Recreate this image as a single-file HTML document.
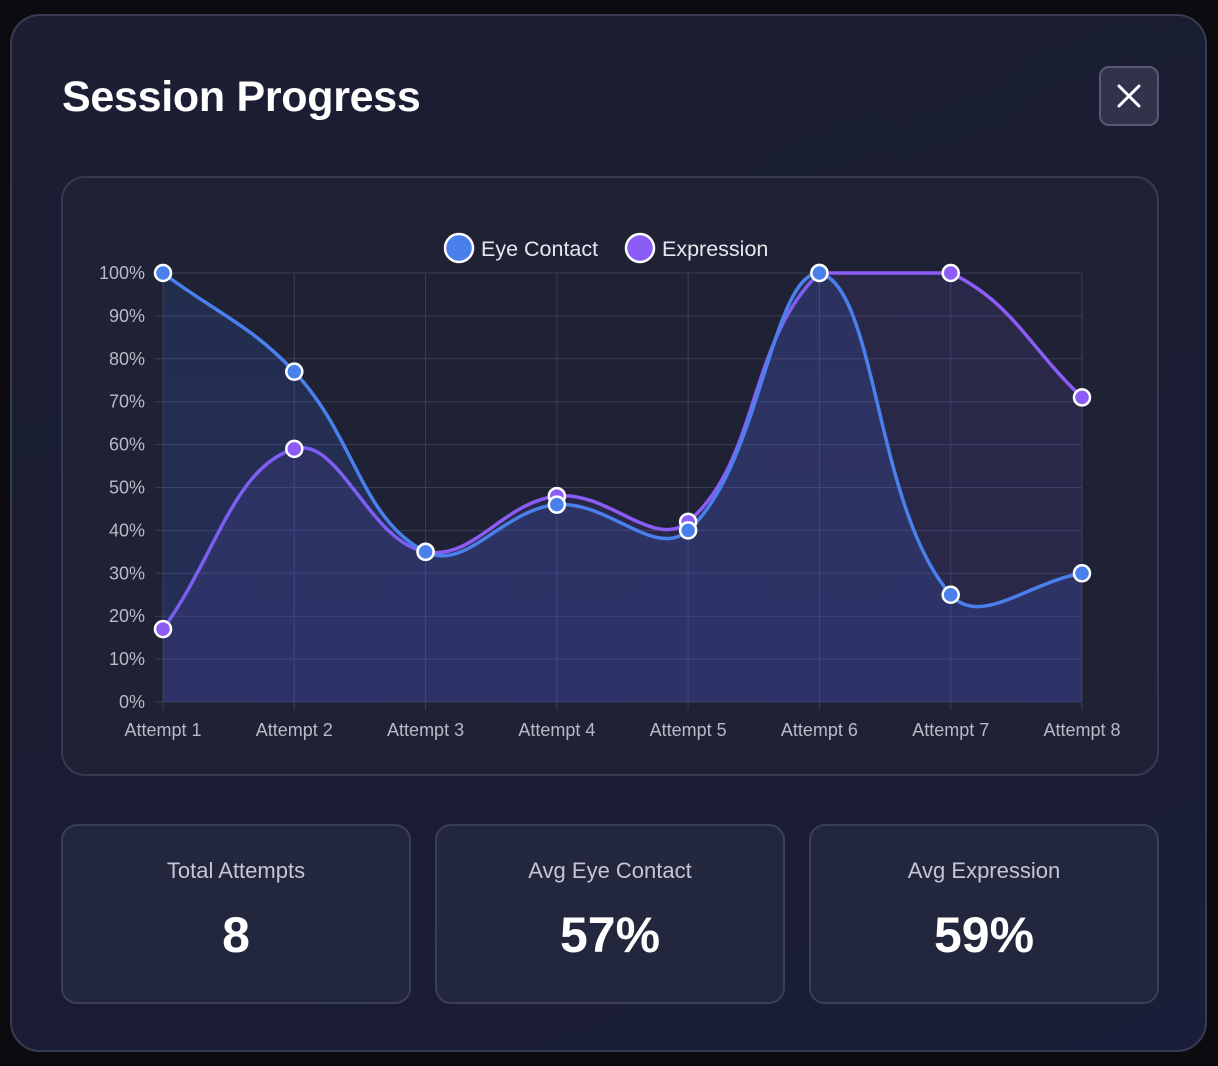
<!DOCTYPE html>
<html><head><meta charset="utf-8"><style>
body{margin:0;width:1218px;height:1066px;background:#0b0b10;font-family:"Liberation Sans",sans-serif;overflow:hidden;position:relative}
.modal{position:absolute;left:10px;top:14px;width:1197px;height:1038px;border-radius:30px;background:linear-gradient(160deg,#1c1f33,#191c32 60%,#1a1e38);border:2px solid #383b52;box-sizing:border-box}
.title{position:absolute;left:62px;top:73px;font-size:43px;font-weight:bold;color:#fff;margin:0;letter-spacing:-0.3px}
.close{position:absolute;left:1099px;top:66px;width:60px;height:60px;box-sizing:border-box;border-radius:10px;background:#30334a;border:2px solid #575b72}
.card{position:absolute;left:61px;top:176px;width:1098px;height:600px;box-sizing:border-box;border-radius:24px;background:#1f2235;border:2px solid #363a52}
.stat{position:absolute;top:824px;width:350px;height:180px;box-sizing:border-box;border-radius:16px;background:#23273d;border:2px solid #3a3e56;text-align:center;color:#fff}
.stat .l{position:absolute;left:0;right:0;top:32px;font-size:22px;color:#c4c6d2}
.stat .v{position:absolute;left:0;right:0;top:80px;font-size:50px;font-weight:bold}
svg{position:absolute;left:0;top:0}
</style></head><body>
<div class="modal"></div>
<h1 class="title">Session Progress</h1>
<div class="close"><svg width="60" height="60" style="left:-2px;top:-2px"><path d="M20 20L40 40M40 20L20 40" stroke="#fff" stroke-width="3" stroke-linecap="round"/></svg></div>
<div class="card"></div>
<svg id="chart" width="1218" height="1066"></svg>
<div class="stat" style="left:61px"><div class="l">Total Attempts</div><div class="v">8</div></div>
<div class="stat" style="left:435px"><div class="l">Avg Eye Contact</div><div class="v">57%</div></div>
<div class="stat" style="left:809px"><div class="l">Avg Expression</div><div class="v">59%</div></div>
<script>
const categories=["Attempt 1","Attempt 2","Attempt 3","Attempt 4","Attempt 5","Attempt 6","Attempt 7","Attempt 8"];
const eyeContact=[100,77,35,46,40,100,25,30];
const expression=[17,59,35,48,42,100,100,71];
const yTicks=[0,10,20,30,40,50,60,70,80,90,100];
const NS="http://www.w3.org/2000/svg";
const svg=document.getElementById('chart');
const L=163,R=1082,T=273,B=702;
const xs=i=>L+i*(R-L)/(categories.length-1);
const ys=v=>B-(v/100)*(B-T);
function el(t,a,p){const e=document.createElementNS(NS,t);for(const k in a)e.setAttribute(k,a[k]);(p||svg).appendChild(e);return e;}
const defs=el('defs',{});
defs.innerHTML='<linearGradient id="gb" x1="0" y1="0" x2="0" y2="1"><stop offset="0" stop-color="#3b6fe6" stop-opacity="0.14"/><stop offset="1" stop-color="#3b5fe6" stop-opacity="0.2"/></linearGradient><linearGradient id="gp" x1="0" y1="0" x2="0" y2="1"><stop offset="0" stop-color="#8b5cf6" stop-opacity="0.1"/><stop offset="1" stop-color="#8b5cf6" stop-opacity="0.1"/></linearGradient>';
yTicks.forEach(v=>{
 const g=el('line',{x1:L-8,x2:R,y1:ys(v),y2:ys(v),stroke:'#3a3e55','stroke-width':1});
 
 const t=el('text',{x:145,y:ys(v)+6,'text-anchor':'end','font-size':18,fill:'#b8bac6'});t.textContent=v+'%';
 
});
categories.forEach((c,i)=>{
 const g=el('line',{x1:xs(i),x2:xs(i),y1:T,y2:B+8,stroke:'#3a3e55','stroke-width':1});
 
 const t=el('text',{x:xs(i),y:736,'text-anchor':'middle','font-size':18,fill:'#b8bac6'});t.textContent=c;
 
});
function pathFor(vals){
 const p=vals.map((v,i)=>({x:xs(i),y:ys(v)}));const t=0.4;const cps=[];
 p.forEach((c,i)=>{const pr=p[i-1]||c,nx=p[i+1]||c;
  const d01=Math.hypot(c.x-pr.x,c.y-pr.y),d12=Math.hypot(nx.x-c.x,nx.y-c.y);
  let s01=d01/(d01+d12),s12=d12/(d01+d12);if(isNaN(s01))s01=0;if(isNaN(s12))s12=0;
  const cl=y=>Math.max(T,Math.min(B,y));
  cps.push({px:c.x-t*s01*(nx.x-pr.x),py:cl(c.y-t*s01*(nx.y-pr.y)),nx:c.x+t*s12*(nx.x-pr.x),ny:cl(c.y+t*s12*(nx.y-pr.y))});});
 let d='M'+p[0].x+' '+p[0].y;
 for(let i=1;i<p.length;i++)d+=` C${cps[i-1].nx} ${cps[i-1].ny} ${cps[i].px} ${cps[i].py} ${p[i].x} ${p[i].y}`;
 return {d,p};
}
function series(vals,color,fill,name){
 const {d,p}=pathFor(vals);
 const f=el('path',{d:d+` L${R} ${B} L${L} ${B} Z`,fill:fill});
 
 const l=el('path',{d:d,fill:'none',stroke:color,'stroke-width':3.5});
 
 return p;
}
const pe=series(expression,'#8b5cf6','url(#gp)','expression');
const pb=series(eyeContact,'#4a80ec','url(#gb)','eye-contact');
pe.forEach(q=>{const c=el('circle',{cx:q.x,cy:q.y,r:8,fill:'#8b5cf6',stroke:'#fff','stroke-width':2.5});});
pb.forEach(q=>{const c=el('circle',{cx:q.x,cy:q.y,r:8,fill:'#4a80ec',stroke:'#fff','stroke-width':2.5});});
[[459,'#4a80ec','Eye Contact',481,'legend-eye-contact'],[640,'#8b5cf6','Expression',662,'legend-expression']].forEach(a=>{
 const g=el('g',{});
 el('circle',{cx:a[0],cy:248,r:14,fill:a[1],stroke:'#fff','stroke-width':2.5},g);
 const t=el('text',{x:a[3],y:256,'font-size':21.5,fill:'#e6e7ee'},g);t.textContent=a[2];
});
</script>
</body></html>
